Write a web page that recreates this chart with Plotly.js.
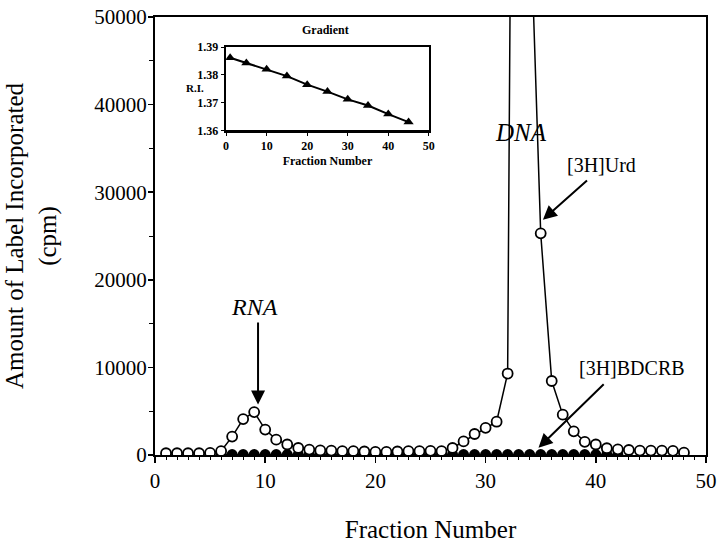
<!DOCTYPE html>
<html>
<head>
<meta charset="utf-8">
<script src="https://cdn.plot.ly/plotly-3.0.1.min.js"></script>
<style>html,body{margin:0;padding:0;background:#fff}</style>
</head>
<body>
<div id="chart" style="width:722px;height:546px"></div>
<script>
// fraction numbers and counts (cpm)
const fractions = [1,2,3,4,5,6,7,8,9,10,11,12,13,14,15,16,17,18,19,20,21,22,23,24,25,26,27,28,29,30,31,32,33,34,35,36,37,38,39,40,41,42,43,44,45,46,47,48];
const urd = [200,200,200,200,250,450,2100,4100,4900,2900,1750,1200,800,620,520,500,450,450,400,350,350,400,450,450,480,450,800,1550,2400,3100,3800,9300,200000,64000,25300,8450,4600,2700,1500,1200,770,650,570,500,500,500,480,280];

const bdcrbFractions = [6,7,8,9,10,11,12,13,14,15,16,17,18,19,20,21,22,23,24,25,26,27,28,29,30,31,32,33,34,35,36,37,38,39,40,41,42];
const bdcrb = [50,50,50,50,50,50,50,50,50,50,50,50,50,50,50,50,50,50,50,50,50,50,50,50,50,50,50,50,50,50,50,50,50,50,50,50,50];

// inset: refractive index gradient
const riFractions = [1,5,10,15,20,25,30,35,40,45];
const ri = [1.3862,1.3843,1.3821,1.3796,1.3765,1.3740,1.3712,1.3690,1.3659,1.3630];

const serif = 'Liberation Serif, Times New Roman, serif';

let data = [
  {
    x: bdcrbFractions, y: bdcrb, mode: 'lines+markers', type: 'scatter',
    line: {color: 'black', width: 1.5},
    marker: {symbol: 'circle', size: 11, color: 'black'}
  },
  {
    x: fractions, y: urd, mode: 'lines+markers', type: 'scatter',
    line: {color: 'black', width: 1.5},
    marker: {symbol: 'circle', size: 10, color: 'white', line: {color: 'black', width: 1.8}}
  },
  {
    x: riFractions, y: ri, xaxis: 'x2', yaxis: 'y2', mode: 'lines+markers', type: 'scatter',
    line: {color: 'black', width: 2},
    marker: {symbol: 'triangle-up', size: 9, color: 'black'}
  }
];

let layout = {
  width: 722, height: 546,
  margin: {l: 155, r: 16, t: 17, b: 91},
  showlegend: false,
  paper_bgcolor: 'white', plot_bgcolor: 'white',
  font: {family: serif, color: 'black'},
  xaxis: {
    range: [0, 50], dtick: 10, showgrid: false, zeroline: false,
    showline: true, linewidth: 2, linecolor: 'black', mirror: true,
    ticks: 'outside', ticklen: 6, tickwidth: 1.5, tickcolor: 'black',
    minor: {dtick: 1, ticks: 'outside', ticklen: 3, tickcolor: 'black', tickwidth: 1},
    tickfont: {family: serif, size: 21},
    title: {text: 'Fraction Number', font: {family: serif, size: 25}, standoff: 28}
  },
  yaxis: {
    range: [0, 50000], dtick: 10000, tickformat: 'd', showgrid: false, zeroline: false,
    showline: true, linewidth: 2, linecolor: 'black', mirror: true,
    ticks: 'outside', ticklen: 5, tickwidth: 1.5, tickcolor: 'black',
    minor: {dtick: 5000, ticks: 'outside', ticklen: 4, tickcolor: 'black', tickwidth: 1},
    tickfont: {family: serif, size: 21}, ticklabelstandoff: -3,
    title: {text: 'Amount of Label Incorporated<br>(cpm)', font: {family: serif, size: 25}, standoff: 31}
  },
  xaxis2: {
    domain: [0.129, 0.497], anchor: 'y2',
    range: [0, 50], dtick: 10, showgrid: false, zeroline: false,
    showline: true, linewidth: 2.5, linecolor: 'black', mirror: true,
    ticks: 'outside', ticklen: 3, tickcolor: 'black',
    tickfont: {family: serif, size: 12, weight: 'bold'},
    title: {text: 'Fraction Number', font: {family: serif, size: 12, weight: 'bold'}, standoff: 5}
  },
  yaxis2: {
    domain: [0.741, 0.931], anchor: 'x2',
    range: [1.36, 1.39], dtick: 0.01, tickformat: '.2f', showgrid: false, zeroline: false,
    showline: true, linewidth: 2.5, linecolor: 'black', mirror: true,
    ticks: 'outside', ticklen: 3, tickcolor: 'black',
    tickfont: {family: serif, size: 12, weight: 'bold'}
  },
  annotations: [
    {text: 'Gradient', xref: 'paper', yref: 'paper', x: 0.309, y: 0.970, xanchor: 'center', yanchor: 'middle',
     showarrow: false, font: {size: 12, weight: 'bold'}},
    {text: 'R.I.', xref: 'paper', yref: 'paper', x: 0.073, y: 0.838, xanchor: 'center', yanchor: 'middle',
     showarrow: false, font: {size: 11, weight: 'bold'}},
    {text: 'RNA', x: 9.05, y: 16930, showarrow: false, font: {size: 24, style: 'italic'}},
    {text: 'DNA', x: 33.2, y: 36770, showarrow: false, font: {size: 25, style: 'italic'}},
    {text: '[3H]Urd', x: 40.56, y: 33120, showarrow: false, font: {size: 20}},
    {text: '[3H]BDCRB', x: 43.29, y: 9940, showarrow: false, font: {size: 20}},
    {text: ' ', x: 9.35, y: 5760, ax: 0, ay: -84, showarrow: true, arrowhead: 2, arrowsize: 1.4,
     arrowwidth: 2, arrowcolor: 'black', font: {size: 1}},
    {text: ' ', x: 35.2, y: 26850, ax: 45.6, ay: -40.7, showarrow: true, arrowhead: 2, arrowsize: 1.4,
     arrowwidth: 2, arrowcolor: 'black', font: {size: 1}},
    {text: ' ', x: 34.8, y: 820, ax: 66.7, ay: -65, showarrow: true, arrowhead: 2, arrowsize: 1.4,
     arrowwidth: 2, arrowcolor: 'black', font: {size: 1}}
  ]
};

Plotly.newPlot('chart', data, layout, {displayModeBar: false, staticPlot: true});
</script>
</body>
</html>
